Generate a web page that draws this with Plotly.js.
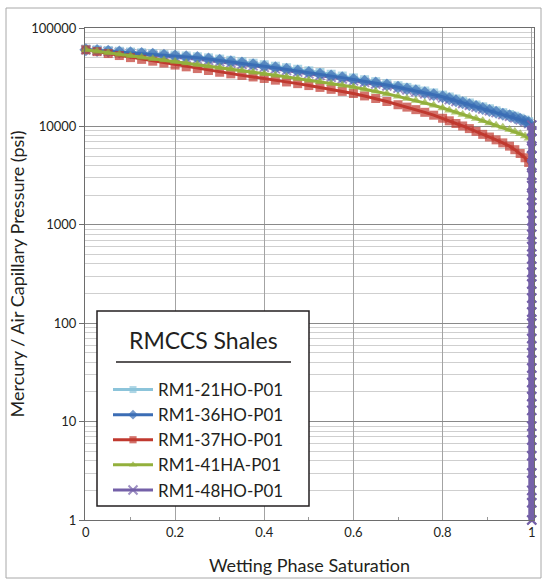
<!DOCTYPE html>
<html>
<head>
<meta charset="utf-8">
<script src="https://cdn.plot.ly/plotly-3.0.1.min.js"></script>
<style>
html,body{margin:0;padding:0;background:#fff;}
#chart{width:543px;height:580px;}
</style>
</head>
<body>
<div id="chart"></div>
<script>
// Wetting phase saturation grid (shared by all samples)
var saturation = [0, 0.025, 0.05, 0.075, 0.1, 0.125, 0.15, 0.175, 0.2, 0.225, 0.25, 0.275, 0.3, 0.325, 0.35, 0.375, 0.4, 0.425, 0.45, 0.475, 0.5, 0.525, 0.55, 0.575, 0.6, 0.625, 0.65, 0.675, 0.7, 0.72, 0.74, 0.76, 0.78, 0.8, 0.815, 0.83, 0.845, 0.86, 0.875, 0.89, 0.905, 0.92, 0.935, 0.95, 0.962, 0.974, 0.985, 0.993, 1.0];

// Capillary pressure (psi) for each sample at those saturations
var p_21HO = [61000, 60000, 59000, 58000, 57000, 56000, 55000, 54000, 53000, 52000, 51000, 49700, 48300, 46900, 45400, 43900, 42300, 40900, 39500, 38100, 36700, 35300, 33900, 32500, 31100, 29800, 28500, 27200, 25900, 24900, 23900, 22900, 21900, 20800, 19900, 19000, 18100, 17300, 16500, 15800, 15100, 14400, 13800, 13200, 12700, 12100, 11600, 11200, 10800];
var p_36HO = [60000, 59000, 58000, 57000, 56000, 55000, 54000, 53000, 52000, 51000, 50000, 48500, 47000, 45500, 44000, 42400, 40800, 39400, 38000, 36600, 35200, 33900, 32600, 31300, 30000, 28800, 27600, 26300, 25000, 24000, 23000, 22000, 21000, 20000, 19100, 18200, 17400, 16600, 15900, 15200, 14500, 13900, 13300, 12800, 12300, 11800, 11300, 10900, 10500];
var p_37HO = [60000, 57500, 55000, 52500, 50000, 48000, 46000, 44000, 42000, 40300, 38700, 37000, 35500, 34200, 33000, 31800, 30700, 29500, 28300, 27200, 26000, 24900, 23800, 22700, 21600, 20400, 19200, 17900, 16600, 15700, 14800, 13900, 13000, 12100, 11400, 10700, 10100, 9500, 8900, 8300, 7800, 7300, 6800, 6300, 5800, 5300, 4800, 4300, 3900];
var p_41HA = [60000, 58000, 56000, 54000, 52200, 50500, 48800, 47200, 45600, 44000, 42500, 41000, 39600, 38200, 36900, 35600, 34300, 33100, 31900, 30700, 29500, 28400, 27300, 26200, 25100, 23900, 22700, 21500, 20200, 19200, 18300, 17400, 16400, 15400, 14600, 13900, 13200, 12600, 12000, 11400, 10800, 10300, 9800, 9300, 8900, 8400, 8000, 7600, 7200];
var p_48HO = [60000, 58800, 57600, 56400, 55200, 54000, 52800, 51600, 50400, 49200, 48000, 46700, 45400, 44000, 42600, 41200, 39800, 38400, 37000, 35600, 34200, 32900, 31600, 30300, 29000, 28000, 27000, 25700, 24500, 23500, 22500, 21500, 20500, 19500, 18700, 17900, 17100, 16400, 15700, 15000, 14400, 13800, 13200, 12700, 12200, 11700, 11200, 10700, 10300];

// Low-pressure steps where every sample is fully saturated (Sw = 1)
var tailPressure = [9000, 7500, 6000, 5000, 4000, 3200, 2500, 2000, 1500, 1100, 800, 600, 450, 330, 250, 180, 130, 100, 70, 50, 35, 25, 18, 13, 9, 6.5, 4.5, 3, 2, 1.5, 1];
var tailSaturation = 1.0;

var sampleNames = ["RM1-21HO-P01", "RM1-36HO-P01", "RM1-37HO-P01", "RM1-41HA-P01", "RM1-48HO-P01"];
var sampleColors = ["#8cc4da", "#3b6db5", "#c0392f", "#93b03c", "#7460a8"];
var sampleSymbols = ["square", "diamond", "square", "triangle-up", "x-thin-open"];
var samplePressures = [p_21HO, p_36HO, p_37HO, p_41HA, p_48HO];
var drawOrder = [4, 0, 1, 2, 3]; // purple curve underneath, others above (as in the source figure)

function seriesData(i) {
  var p = samplePressures[i];
  var last = p[p.length - 1];
  var tailP = tailPressure.filter(function (v) { return v < last; });
  return {
    x: saturation.concat(tailP.map(function () { return tailSaturation; })),
    y: p.concat(tailP),
    tailX: [tailSaturation].concat(tailP.map(function () { return tailSaturation; })),
    tailY: [last].concat(tailP)
  };
}

var traces = drawOrder.map(function (i) {
  var d = seriesData(i);
  var isX = sampleSymbols[i].indexOf("x") === 0;
  var baseSize = i === 1 ? 10 : 9;
  var sizes = d.x.map(function (x) { return (x >= 1 && !isX) ? 4 : baseSize; });
  return {
    type: "scatter",
    mode: "lines+markers",
    name: sampleNames[i],
    legendrank: i + 1,
    legendgroup: sampleNames[i],
    x: d.x,
    y: d.y,
    line: { color: sampleColors[i], width: 3 },
    marker: {
      symbol: sampleSymbols[i],
      size: sizes,
      color: sampleColors[i],
      line: { color: sampleColors[i], width: isX ? 2 : 0 }
    },
    cliponaxis: false
  };
});

// the fully-saturated vertical run of the last sample, drawn on top as a heavy band
var lastIdx = 4;
var dLast = seriesData(lastIdx);
traces.push({
  type: "scatter",
  mode: "lines+markers",
  name: sampleNames[lastIdx],
  legendgroup: sampleNames[lastIdx],
  showlegend: false,
  x: dLast.tailX,
  y: dLast.tailY,
  line: { color: sampleColors[lastIdx], width: 7 },
  marker: { symbol: sampleSymbols[lastIdx], size: 9, color: sampleColors[lastIdx], line: { color: sampleColors[lastIdx], width: 2 } },
  cliponaxis: false
});

var L = 85, R = 534, T = 28, B = 520;
function px(x) { return (x - L) / (R - L); }
function py(y) { return (B - y) / (B - T); }

var layout = {
  width: 543,
  height: 580,
  margin: { l: L, r: 543 - R, t: T, b: 580 - B },
  paper_bgcolor: "#ffffff",
  plot_bgcolor: "#ffffff",
  font: { family: "Lato, 'Open Sans', sans-serif", color: "#231f20", size: 13 },
  showlegend: true,
  xaxis: {
    range: [-0.002, 1.005],
    dtick: 0.2,
    tick0: 0,
    showgrid: true,
    gridcolor: "#a3a3a3",
    gridwidth: 1,
    zeroline: false,
    showline: true,
    linecolor: "#6d6d6d",
    linewidth: 1,
    mirror: true,
    ticks: "",
    tickfont: { size: 13, family: "Lato, sans-serif", color: "#231f20" },
    minor: { dtick: 0.1, ticks: "inside", ticklen: 3, tickcolor: "#999999", showgrid: false },
    title: { text: "Wetting Phase Saturation", font: { size: 18, family: "Lato, sans-serif", color: "#231f20" }, standoff: 20 }
  },
  yaxis: {
    type: "log",
    range: [0, 5],
    dtick: 1,
    tickformat: "d",
    showgrid: true,
    gridcolor: "#8a8a8a",
    gridwidth: 1,
    zeroline: false,
    showline: true,
    linecolor: "#6d6d6d",
    linewidth: 1,
    mirror: true,
    ticks: "outside",
    ticklen: 5,
    tickcolor: "#6d6d6d",
    tickfont: { size: 13, family: "Lato, sans-serif", color: "#231f20" },
    minor: { dtick: "D1", showgrid: true, gridcolor: "#cfcfcf", gridwidth: 1, ticks: "" },
    title: { text: "Mercury / Air Capillary Pressure (psi)", font: { size: 18, family: "Lato, sans-serif", color: "#231f20" }, standoff: 1 }
  },
  legend: {
    x: px(108),
    y: py(372),
    xanchor: "left",
    yanchor: "top",
    bgcolor: "rgba(0,0,0,0)",
    borderwidth: 0,
    itemwidth: 40,
    traceorder: "normal",
    font: { size: 17, family: "Lato, sans-serif", color: "#231f20" }
  },
  shapes: [
    { type: "rect", xref: "paper", yref: "paper", x0: px(97), x1: px(309), y0: py(506), y1: py(311),
      line: { color: "#231f20", width: 1.5 }, fillcolor: "#ffffff", layer: "above" },
    { type: "line", xref: "paper", yref: "paper", x0: px(116), x1: px(291), y0: py(362), y1: py(362),
      line: { color: "#231f20", width: 1.5 }, layer: "above" },
    { type: "rect", xref: "paper", yref: "paper", x0: px(6), x1: px(541), y0: py(578), y1: py(8),
      line: { color: "#a8a8a8", width: 1 }, fillcolor: "rgba(0,0,0,0)", layer: "below" }
  ],
  annotations: [
    { xref: "paper", yref: "paper", x: px(203), y: py(340), text: "RMCCS Shales", showarrow: false,
      xanchor: "center", yanchor: "middle", font: { size: 23, family: "Lato, sans-serif", color: "#231f20" } }
  ]
};

Plotly.newPlot("chart", traces, layout, { displayModeBar: false, staticPlot: true });
</script>
</body>
</html>
